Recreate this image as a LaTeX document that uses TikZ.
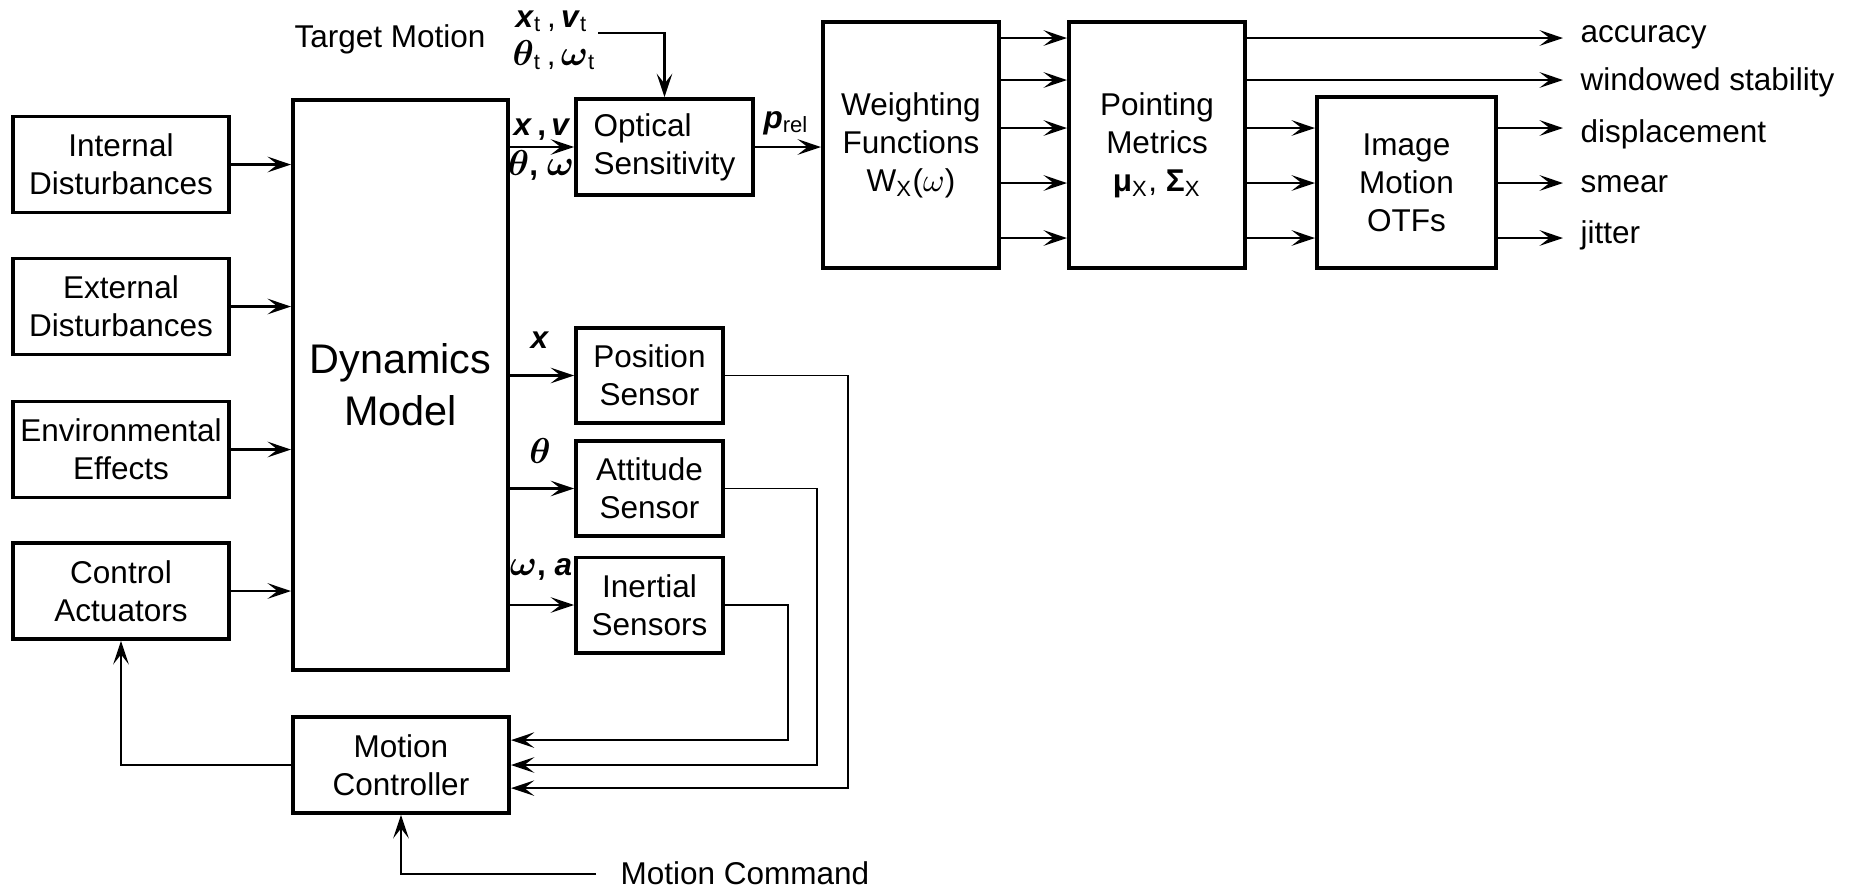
\documentclass[tikz,border=0pt]{standalone}
\usepackage{amsmath}
\usepackage{fontspec}
\setmainfont{Liberation Sans}
\usetikzlibrary{arrows.meta}

\newcommand{\bv}[1]{\textbf{\textit{#1}}}
\newcommand{\bg}[1]{{\fontsize{13}{13}\selectfont$\boldsymbol{#1}$}}

\tikzset{
  blk/.style={draw=black, line width=1.3pt, align=center, inner sep=0pt,
    font=\fontsize{10.5}{12.7}\selectfont},
  lbl/.style={inner sep=0pt, font=\fontsize{10.5}{12.7}\selectfont},
  arr/.style={line width=0.75pt, -{Stealth[length=7.8pt, width=5.2pt, inset=3.3pt]}},
  fb/.style={line width=0.65pt, -{Stealth[length=7.8pt, width=5.2pt, inset=3.3pt]}},
}

\begin{document}
\begin{tikzpicture}[x=0.3333pt, y=-0.3333pt]
  \useasboundingbox (0,0) rectangle (1854,890);

  % Input blocks: 216x96 px
  \foreach \nm/\yy/\txt in {intd/164.5/{Internal\\Disturbances},
      extd/306.5/{External\\Disturbances},
      env/449.5/{Environmental\\Effects},
      ctrl/591/{Control\\Actuators}} {
    \node[blk, minimum width=72pt, minimum height=32pt] (\nm) at (121,\yy) {\txt};
  }

  % Dynamics model
  \node[blk, minimum width=71.7pt, minimum height=190pt,
    font=\fontsize{13.8}{17.3}\selectfont] (dyn) at (400.5,385) {Dynamics\\Model};

  % Optics and sensors
  \node[blk, align=left, minimum width=59pt, minimum height=32pt] (optic) at (664.5,147) {Optical\\Sensitivity};
  \node[blk, minimum width=49pt, minimum height=31.7pt] (pos) at (649.5,375.5) {Position\\Sensor};
  \node[blk, minimum width=49pt, minimum height=31.7pt] (att) at (649.5,488.5) {Attitude\\Sensor};
  \node[blk, minimum width=49pt, minimum height=31.7pt] (iner) at (649.5,605) {Inertial\\Sensors};

  % Controller
  \node[blk, minimum width=72pt, minimum height=32pt] (mc) at (401,765) {Motion\\Controller};

  % Metric chain
  \node[blk, minimum width=58.7pt, minimum height=82pt] (wf) at (911,145) {Weighting\\Functions\\W\textsubscript{X}($\omega$)};
  \node[blk, minimum width=58.7pt, minimum height=82pt] (pm) at (1157,145) {Pointing\\Metrics\\\textbf{μ}\textsubscript{X}, \textbf{Σ}\textsubscript{X}};
  \node[blk, minimum width=59.7pt, minimum height=57pt] (imo) at (1406.5,182.5) {Image\\Motion\\OTFs};

  % Inputs into dynamics
  \foreach \nm in {intd,extd,env,ctrl} {
    \draw[arr] (\nm.east) -- (\nm.east -| dyn.west);
  }
  % Dynamics outputs
  \foreach \nm in {optic,pos,att,iner} {
    \draw[arr] (\nm.west -| dyn.east) -- (\nm.west);
  }
  \node[lbl, anchor=base] (sxv) at (542,135) {\bv{x}\,\textbf{,}\,\bv{v}};
  \node[lbl, anchor=base] (sthw) at (541,175) {\bg{\theta}\textbf{,} \bg{\omega}};
  \node[lbl, anchor=base] (sx) at (540,348) {\bv{x}};
  \node[lbl, anchor=base] (sth) at (540,463) {\bg{\theta}};
  \node[lbl, anchor=base] (swa) at (541,575) {\bg{\omega}\textbf{,} \bv{a}};

  % Target motion
  \node[lbl, anchor=base west] (tgt) at (294,47) {Target Motion};
  \node[lbl, anchor=base west] (tgtx) at (515,27) {\bv{x}\textsubscript{t}\,,\,\bv{v}\textsubscript{t}};
  \node[lbl, anchor=base west] (tgtth) at (512,65) {\bg{\theta}\textsubscript{t}\,,\,\bg{\omega}\textsubscript{t}};
  \coordinate (tgtin) at (598,33);
  \draw[arr] (tgtin) -| (optic.north);

  % Optics to weighting
  \draw[arr] (optic.east) -- (optic.east -| wf.west);
  \node[lbl, anchor=base west] (prel) at (763,128) {\bv{p}\textsubscript{rel}};

  \foreach \yy in {38,80,128,183,238} {
    \coordinate (w\yy) at (0,\yy);
    \draw[arr] (wf.east |- w\yy) -- (pm.west |- w\yy);
  }
  \foreach \yy in {128,183,238} {
    \coordinate (p\yy) at (0,\yy);
    \draw[arr] (pm.east |- p\yy) -- (imo.west |- p\yy);
  }

  % Outputs
  \foreach \nm/\yy/\bl/\txt in {acc/38/42/accuracy, win/80/90/windowed stability} {
    \coordinate (\nm-in) at (1563,\yy);
    \node[lbl, anchor=base west] (\nm) at (1580,\bl) {\txt};
    \draw[arr] (pm.east |- \nm-in) -- (\nm-in);
  }
  \foreach \nm/\yy/\bl/\txt in {dsp/128/142/displacement, smr/183/192/smear, jit/238/243/jitter} {
    \coordinate (\nm-in) at (1563,\yy);
    \node[lbl, anchor=base west] (\nm) at (1580,\bl) {\txt};
    \draw[arr] (imo.east |- \nm-in) -- (\nm-in);
  }

  % Feedback loop
  \draw[fb] (pos.east) -- ++(123,0) |- ([yshift=-7.7pt]mc.east);
  \draw[fb] (att.east) -- ++(92,0) |- (mc.east);
  \draw[fb] (iner.east) -- ++(63,0) |- ([yshift=8.3pt]mc.east);
  \draw[arr] (mc.west) -| (ctrl.south);

  % Command
  \node[lbl, anchor=base west] (cmd) at (620,884) {Motion Command};
  \coordinate (cmdout) at (596,874);
  \draw[arr] (cmdout) -| (mc.south);
\end{tikzpicture}
\end{document}
